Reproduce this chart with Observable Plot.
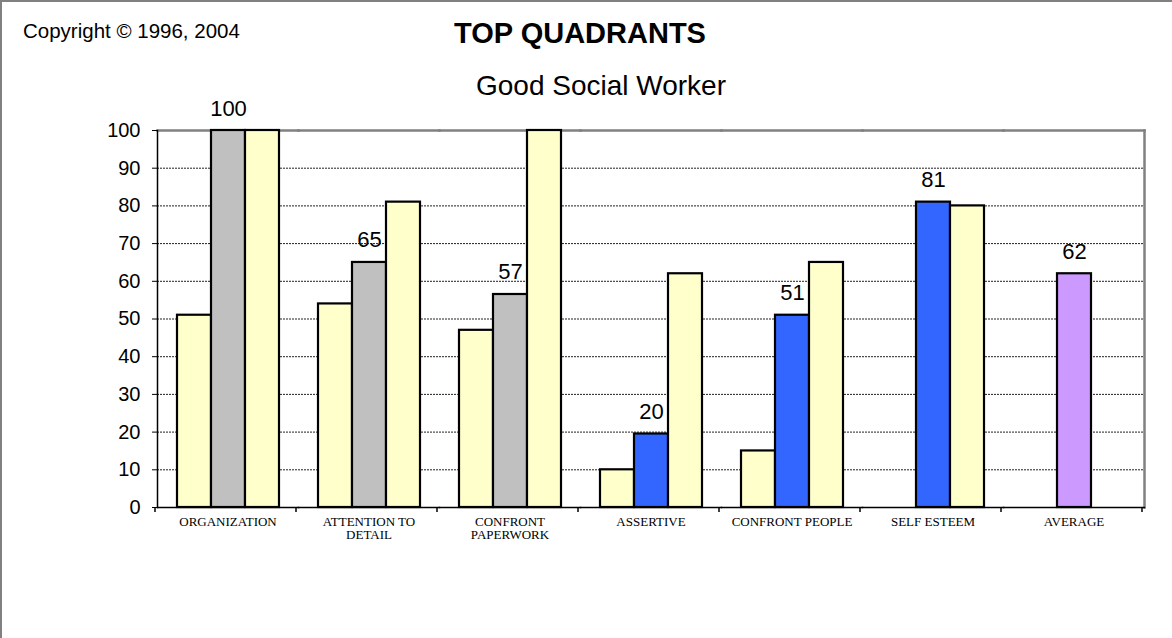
<!DOCTYPE html>
<html><head><meta charset="utf-8">
<script src="https://cdn.jsdelivr.net/npm/d3@7"></script>
<script src="https://cdn.jsdelivr.net/npm/@observablehq/plot@0.6"></script>
<style>
body{margin:0;background:#fff;}
#wrap{position:relative;width:1172px;height:638px;overflow:hidden;font-family:Arial,"Liberation Sans",sans-serif;background:#fff;}
#chart{position:absolute;left:0;top:0;}
#border{position:absolute;left:0;top:0;width:1180px;height:650px;box-sizing:border-box;border-left:2px solid #808080;border-top:2px solid #808080;pointer-events:none;}
.t{position:absolute;white-space:nowrap;color:#000;}
#copy{left:23px;top:21px;font-size:20.5px;line-height:20.5px;}
#title{left:580px;top:18.5px;font-size:29px;line-height:29px;font-weight:bold;transform:translateX(-50%);}
#sub{left:601px;top:72px;font-size:28px;line-height:28px;transform:translateX(-50%);}
</style></head><body>
<div id="wrap">
  <div id="chart"></div>
  <div class="t" id="copy">Copyright © 1996, 2004</div>
  <div class="t" id="title">TOP QUADRANTS</div>
  <div class="t" id="sub">Good Social Worker</div>
  <div id="border"></div>
</div>
<script>
// ---- data ----
const categories = ["ORGANIZATION","ATTENTION TO DETAIL","CONFRONT PAPERWORK","ASSERTIVE","CONFRONT PEOPLE","SELF ESTEEM","AVERAGE"];
const categoryLabels = ["ORGANIZATION","ATTENTION TO\nDETAIL","CONFRONT\nPAPERWORK","ASSERTIVE","CONFRONT PEOPLE","SELF ESTEEM","AVERAGE"];
const firstValues  = [51, 54, 47, 10, 15, null, null];
const middleValues = [100, 65, 56.5, 19.5, 51, 81, 62];
const middleLabels = ["100","65","57","20","51","81","62"];
const middleKind   = ["task","task","task","people","people","people","average"];
const lastValues   = [100, 81, 100, 62, 65, 80, null];
const yTicks = [0,10,20,30,40,50,60,70,80,90,100];

// ---- styles ----
const kindColor = {task:"#C0C0C0", people:"#3366FF", average:"#CC99FF"};
const pale = "#FFFFCC";

const rows = [];
categories.forEach((c,i) => {
  if (firstValues[i] != null) rows.push({cat:c, slot:"a", value:firstValues[i], fill:pale});
  if (middleValues[i] != null) rows.push({cat:c, slot:"b", value:middleValues[i], fill:kindColor[middleKind[i]], label:middleLabels[i]});
  if (lastValues[i] != null) rows.push({cat:c, slot:"c", value:lastValues[i], fill:pale});
});
const labelRows = rows.filter(d => d.label != null);

const plot = Plot.plot({
  width: 1172, height: 638,
  marginLeft: 155, marginRight: 27, marginTop: 130, marginBottom: 131,
  style: {fontFamily: "Arial, 'Liberation Sans', sans-serif", background: "transparent", color:"#000"},
  fx: {domain: categories, padding: 0, axis: null, label: null},
  x: {domain: ["a","b","c"], paddingInner: 0, paddingOuter: 0.52, axis: null},
  y: {domain: [0,100], axis: null},
  color: {type: "identity"},
  marks: [
    Plot.gridY(yTicks.filter(t => t > 0 && t < 100), {stroke:"#222", strokeOpacity:1, strokeWidth:1, strokeDasharray:"2,1"}),
    Plot.frame({anchor:"top", stroke:"#808080", strokeWidth:2.5}),
    Plot.frame({anchor:"right", stroke:"#808080", strokeWidth:2.5, facetAnchor:"right"}),
    Plot.barY(rows, {fx:"cat", x:"slot", y:"value", fill:"fill", stroke:"#000", strokeWidth:2.2}),
    Plot.frame({anchor:"bottom", stroke:"#000", strokeWidth:1.5}),
    Plot.frame({anchor:"left", stroke:"#000", strokeWidth:1.5, facetAnchor:"left"}),
    Plot.axisY({ticks: yTicks, tickSize: 5, tickPadding: 12, fontSize: 20, label: null, stroke:"#000"}),
    Plot.axisFx({anchor:"bottom", tickSize: 0, tickPadding: 9, fontSize: 13, label: null,
      fontFamily: "'Times New Roman', 'Liberation Serif', serif",
      tickFormat: c => categoryLabels[categories.indexOf(c)]}),
    Plot.text(labelRows, {fx:"cat", x:"slot", y:"value", text:"label", lineAnchor:"bottom", dy:-15, fontSize:22, fill:"#000"})
  ]
});
document.getElementById("chart").appendChild(plot);

// category boundary tick marks on the x axis, from the fx band scale
const fx = plot.scale("fx");
const y = plot.scale("y");
const step = fx.step != null ? fx.step : (fx.range[1]-fx.range[0])/fx.domain.length;
const y0 = y.apply ? y.apply(0) : y.range[0];
const bounds = d3.range(fx.domain.length + 1).map(i => fx.range[0] + i*step);
d3.select(plot).append("g")
  .selectAll("line").data(bounds).join("line")
  .attr("x1", d => d).attr("x2", d => d)
  .attr("y1", y0).attr("y2", y0 + 5)
  .attr("stroke", "#000").attr("stroke-width", 1.5);
</script>
</body></html>
